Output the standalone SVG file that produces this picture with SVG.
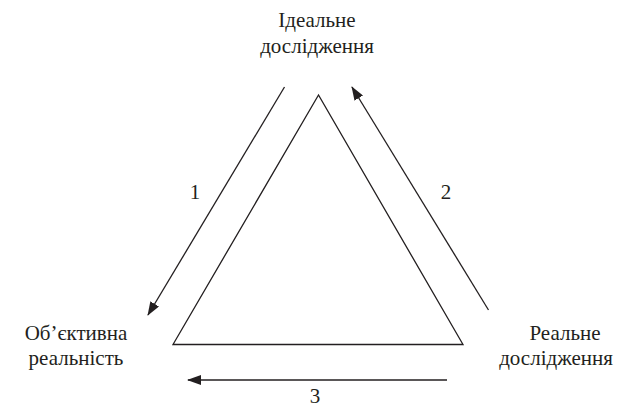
<svg xmlns="http://www.w3.org/2000/svg" width="621" height="407" viewBox="0 0 621 407">
<defs>
<marker id="ah" viewBox="0 0 14 10" refX="13" refY="5" markerWidth="14" markerHeight="10" markerUnits="userSpaceOnUse" orient="auto">
<path d="M0,0 L14,5 L0,10 Z" fill="#231f20"/>
</marker>
</defs>
<rect width="621" height="407" fill="#fff"/>
<g id="triangle">
<polygon points="318.5,95 173,344.5 463,344.5" stroke="#231f20" stroke-width="1.3" fill="none"/>
</g>
<g id="node-ideal" fill="#231f20" text-anchor="middle">
<text x="317" y="27" font-family="Liberation Serif, serif" font-size="21" style="font-family:'Liberation Serif',serif">Ідеальне</text>
<text x="317" y="53" font-family="Liberation Serif, serif" font-size="21" style="font-family:'Liberation Serif',serif">дослідження</text>
</g>
<g id="node-objective" fill="#231f20" text-anchor="middle">
<text x="76" y="340" font-family="Liberation Serif, serif" font-size="21" style="font-family:'Liberation Serif',serif">Об’єктивна</text>
<text x="76" y="365" font-family="Liberation Serif, serif" font-size="21" style="font-family:'Liberation Serif',serif">реальність</text>
</g>
<g id="node-real" fill="#231f20" text-anchor="middle">
<text x="565" y="340" font-family="Liberation Serif, serif" font-size="21" style="font-family:'Liberation Serif',serif">Реальне</text>
<text x="556" y="365" font-family="Liberation Serif, serif" font-size="21" style="font-family:'Liberation Serif',serif">дослідження</text>
</g>
<g id="connectors" stroke="#231f20" stroke-width="1.3" fill="none">
<line x1="284.5" y1="87" x2="148" y2="315" marker-end="url(#ah)"/>
<line x1="488.5" y1="310" x2="352" y2="87" marker-end="url(#ah)"/>
<line x1="447" y1="380" x2="188" y2="380" marker-end="url(#ah)"/>
</g>
<g id="labels" fill="#231f20" text-anchor="middle">
<text x="195" y="199" font-family="Liberation Serif, serif" font-size="21" style="font-family:'Liberation Serif',serif">1</text>
<text x="446" y="199" font-family="Liberation Serif, serif" font-size="21" style="font-family:'Liberation Serif',serif">2</text>
<text x="315" y="403" font-family="Liberation Serif, serif" font-size="21" style="font-family:'Liberation Serif',serif">3</text>
</g>
</svg>
